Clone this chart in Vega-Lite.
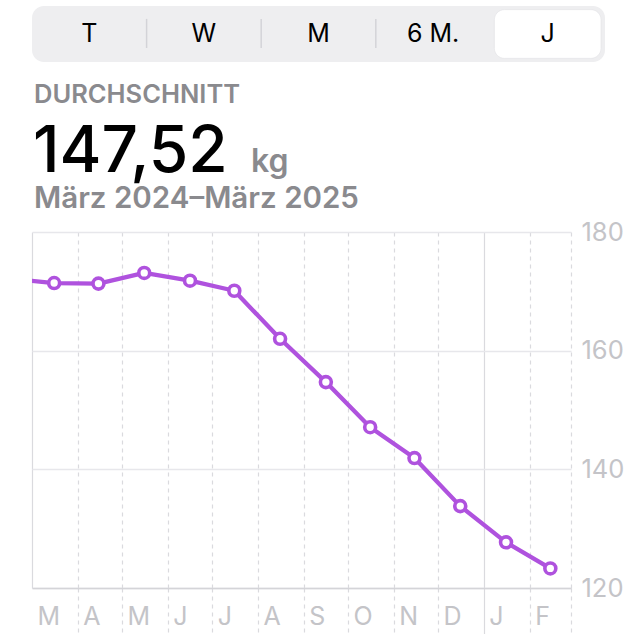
{
  "$schema": "https://vega.github.io/schema/vega-lite/v6.json",
  "background": "#ffffff",
  "padding": {"left": 32, "top": 6, "right": 0, "bottom": 0},
  "autosize": {"type": "pad"},
  "bounds": "flush",
  "spacing": 40,
  "config": {"view": {"stroke": null}, "font": "Inter"},
  "datasets": {
    "zeitraeume": [
      {"zeitraum": "T", "aktiv": false},
      {"zeitraum": "W", "aktiv": false},
      {"zeitraum": "M", "aktiv": false},
      {"zeitraum": "6 M.", "aktiv": false},
      {"zeitraum": "J", "aktiv": true}
    ],
    "kopf": [
      {"teil": "Kennzahl", "text": "DURCHSCHNITT"},
      {"teil": "Wert", "text": "147,52"},
      {"teil": "Einheit", "text": "kg"},
      {"teil": "Zeitraum", "text": "März 2024–März 2025"}
    ],
    "gewicht": [
      {"tag": "2024-02-15", "gewicht": 172.1},
      {"tag": "2024-03-16", "gewicht": 171.4},
      {"tag": "2024-04-15", "gewicht": 171.3},
      {"tag": "2024-05-16", "gewicht": 173.1},
      {"tag": "2024-06-16", "gewicht": 171.8},
      {"tag": "2024-07-16", "gewicht": 170.1},
      {"tag": "2024-08-16", "gewicht": 162.0},
      {"tag": "2024-09-16", "gewicht": 154.7},
      {"tag": "2024-10-16", "gewicht": 147.1},
      {"tag": "2024-11-15", "gewicht": 141.9},
      {"tag": "2024-12-16", "gewicht": 133.8},
      {"tag": "2025-01-16", "gewicht": 127.7},
      {"tag": "2025-02-15", "gewicht": 123.3}
    ]
  },
  "vconcat": [
    {
      "width": 573,
      "height": 56,
      "view": {"fill": "#eeeef0", "stroke": null, "cornerRadius": 12},
      "data": {"name": "zeitraeume"},
      "encoding": {
        "x": {
          "field": "zeitraum",
          "type": "nominal",
          "sort": null,
          "scale": {"type": "band", "domain": ["T", "W", "M", "6 M.", "J"], "paddingInner": 0, "paddingOuter": 0},
          "axis": null
        }
      },
      "layer": [
        {
          "transform": [{"filter": "datum.aktiv"}],
          "mark": {"type": "bar", "fill": "#ffffff", "cornerRadius": 10, "width": {"band": 0.93}, "stroke": "#e2e2e6", "strokeWidth": 0.6},
          "encoding": {
            "y": {"datum": 0.065, "type": "quantitative", "scale": {"domain": [0, 1]}, "axis": null},
            "y2": {"datum": 0.935}
          }
        },
        {
          "transform": [{"filter": "indexof(['W','M','6 M.'], datum.zeitraum) >= 0"}],
          "mark": {"type": "rule", "color": "#d3d3d8", "strokeWidth": 1.5},
          "encoding": {
            "x": {"field": "zeitraum", "type": "nominal", "bandPosition": 0},
            "y": {"datum": 0.25, "type": "quantitative"},
            "y2": {"datum": 0.77}
          }
        },
        {
          "mark": {"type": "text", "fontSize": 25, "font": "Inter", "fontWeight": 400, "color": "#000000", "baseline": "middle"},
          "encoding": {
            "text": {"field": "zeitraum"},
            "y": {"datum": 0.5, "type": "quantitative"}
          }
        }
      ]
    },
    {
      "width": 218,
      "height": 90,
      "data": {"name": "kopf"},
      "encoding": {
        "text": {"field": "text"}
      },
      "layer": [
        {
          "transform": [{"filter": "datum.teil === 'Kennzahl'"}],
          "mark": {"type": "text", "align": "left", "baseline": "alphabetic", "fontSize": 25.5, "fontWeight": 600, "color": "#8a8a8e", "dx": 2, "dy": 1},
          "encoding": {
            "x": {"datum": "links", "type": "nominal", "scale": {"type": "point", "domain": ["links", "rechts"], "padding": 0}, "axis": null},
            "y": {"datum": "Kennzahl", "type": "nominal", "scale": {"type": "point", "domain": ["Kennzahl", "Wert", "Zeitraum"], "padding": 0}, "axis": null}
          }
        },
        {
          "transform": [{"filter": "datum.teil === 'Wert'"}],
          "mark": {"type": "text", "align": "left", "baseline": "alphabetic", "fontSize": 64, "fontWeight": 500, "color": "#000000", "dx": 1, "dy": 25},
          "encoding": {
            "x": {"datum": "links", "type": "nominal"},
            "y": {"datum": "Wert", "type": "nominal"}
          }
        },
        {
          "transform": [{"filter": "datum.teil === 'Einheit'"}],
          "mark": {"type": "text", "align": "left", "baseline": "alphabetic", "fontSize": 32, "fontWeight": 600, "color": "#8a8a8e", "dx": 1, "dy": 25},
          "encoding": {
            "x": {"datum": "rechts", "type": "nominal"},
            "y": {"datum": "Wert", "type": "nominal"}
          }
        },
        {
          "transform": [{"filter": "datum.teil === 'Zeitraum'"}],
          "mark": {"type": "text", "align": "left", "baseline": "alphabetic", "fontSize": 29.5, "fontWeight": 600, "color": "#8a8a8e", "dx": 2, "dy": 16},
          "encoding": {
            "x": {"datum": "links", "type": "nominal"},
            "y": {"datum": "Zeitraum", "type": "nominal"}
          }
        }
      ]
    },
    {
      "width": 539,
      "height": 356,
      "data": {"name": "gewicht"},
      "encoding": {
        "x": {
          "field": "tag",
          "type": "temporal",
          "scale": {"type": "utc", "domain": [{"year": 2024, "month": 3, "date": 1, "utc": true}, {"year": 2025, "month": 3, "date": 1, "utc": true}]},
          "axis": {
            "title": null,
            "values": [
              {"year": 2024, "month": 3, "date": 1, "utc": true},
              {"year": 2024, "month": 4, "date": 1, "utc": true},
              {"year": 2024, "month": 5, "date": 1, "utc": true},
              {"year": 2024, "month": 6, "date": 1, "utc": true},
              {"year": 2024, "month": 7, "date": 1, "utc": true},
              {"year": 2024, "month": 8, "date": 1, "utc": true},
              {"year": 2024, "month": 9, "date": 1, "utc": true},
              {"year": 2024, "month": 10, "date": 1, "utc": true},
              {"year": 2024, "month": 11, "date": 1, "utc": true},
              {"year": 2024, "month": 12, "date": 1, "utc": true},
              {"year": 2025, "month": 1, "date": 1, "utc": true},
              {"year": 2025, "month": 2, "date": 1, "utc": true},
              {"year": 2025, "month": 3, "date": 1, "utc": true}
            ],
            "grid": true,
            "gridColor": "#dadade",
            "gridWidth": 1.2,
            "gridDash": {"condition": {"test": "utcmonth(datum.value) === 0 || (utcyear(datum.value) === 2024 && utcmonth(datum.value) === 2)", "value": []}, "value": [4, 4]},
            "ticks": true,
            "tickSize": 46,
            "tickColor": "#dadade",
            "tickWidth": 1.2,
            "tickDash": {"condition": {"test": "utcmonth(datum.value) === 0", "value": []}, "value": [4, 4]},
            "tickOpacity": {"condition": {"test": "utcyear(datum.value) === 2024 && utcmonth(datum.value) === 2", "value": 0}, "value": 1},
            "domain": true,
            "domainColor": "#d4d4d8",
            "domainWidth": 1.5,
            "labelExpr": "(utcyear(datum.value) === 2025 && utcmonth(datum.value) === 2) ? '' : ['J','F','M','A','M','J','J','A','S','O','N','D'][utcmonth(datum.value)]",
            "labelAlign": "left",
            "labelBaseline": "top",
            "labelOffset": 5,
            "labelPadding": -30,
            "labelFont": "Inter",
            "labelFontSize": 25,
            "labelColor": "#c4c4c8",
            "labelOverlap": false,
            "labelBound": false,
            "labelFlush": false
          }
        },
        "y": {
          "field": "gewicht",
          "type": "quantitative",
          "scale": {"domain": [120, 180], "zero": false, "nice": false},
          "axis": {
            "title": null,
            "orient": "right",
            "values": [120, 140, 160, 180],
            "grid": true,
            "gridColor": "#e7e7eb",
            "gridWidth": 1.5,
            "ticks": false,
            "domain": false,
            "labelPadding": 10,
            "labelFont": "Inter",
            "labelFontSize": 25.5,
            "labelColor": "#c4c4c8"
          }
        }
      },
      "layer": [
        {"mark": {"type": "line", "color": "#af52de", "strokeWidth": 4.3, "clip": true, "strokeJoin": "round", "strokeCap": "round"}},
        {"mark": {"type": "point", "filled": true, "fill": "#ffffff", "stroke": "#af52de", "strokeWidth": 3.6, "size": 120, "opacity": 1, "clip": true}}
      ]
    }
  ]
}
